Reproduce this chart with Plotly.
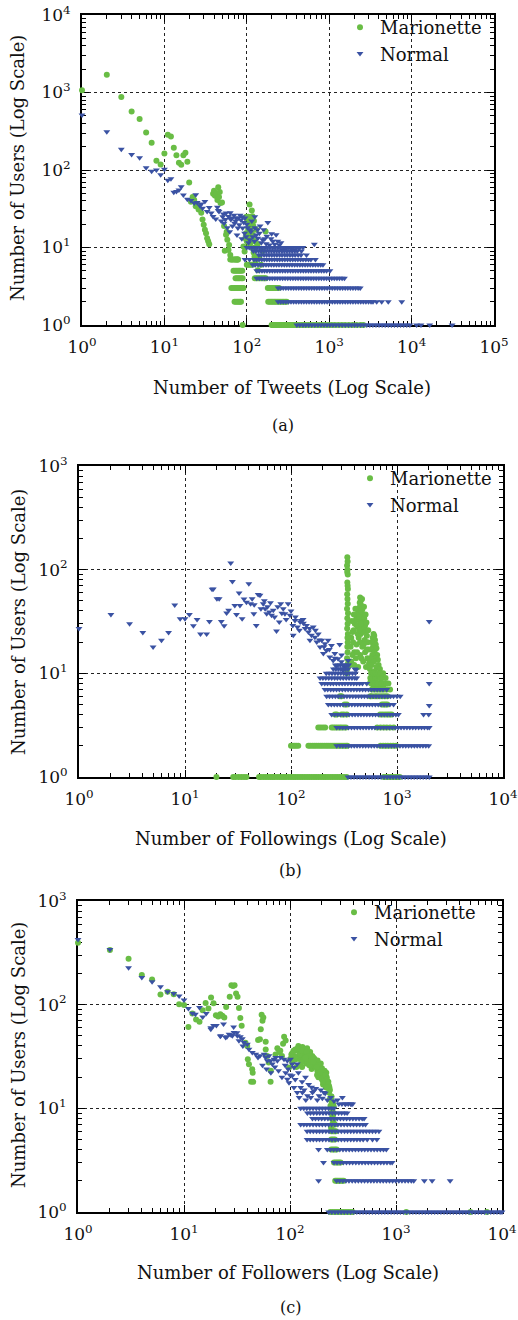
import plotly.graph_objects as go

# ---------------- data ----------------
# (a) Number of Tweets vs Number of Users
tweets_mar_x = [1, 2, 3, 4, 5, 6, 7, 8, 9, 10, 11, 12, 13, 14, 15, 16, 17, 18, 19, 20,
                21, 22, 23, 24, 25, 26, 28, 29, 30, 31, 32, 33, 34, 35,
                39, 40, 41, 42, 43, 44, 45, 46, 47, 48, 50,
                53, 54, 56, 57, 58, 60, 61, 63, 66, 72, 76, 78,
                91, 94, 96, 98, 99, 100, 101, 103, 105, 106, 108, 108, 110, 112, 113, 115, 117,
                118, 118, 120, 121, 122, 124, 125, 128, 130, 135, 136, 142, 149, 155, 169,
                102, 107, 111, 114, 119, 126, 104, 116]
tweets_mar_y = [1070, 1700, 875, 570, 455, 305, 225, 132, 118, 163, 286, 271, 194, 155, 124, 117, 155, 167, 128, 69,
                39, 45, 41, 34, 36, 31, 28, 23, 19.6, 17, 15.3, 13.2, 12, 11,
                49.5, 54, 47, 46.5, 50, 41, 60, 45, 52, 37.5, 38,
                19, 9.1, 14.6, 16, 12.6, 9.3, 10.8, 8, 7, 7, 7, 7,
                10.3, 8.9, 13.2, 15.3, 25, 12, 22.6, 22.7, 25, 16.9, 36, 10.8, 20.6, 18.7, 16, 30, 25.4,
                9.8, 14.6, 19, 8.6, 22, 7.6, 12, 6.6, 17, 11, 5.1, 7.3, 6, 9, 16.1,
                14, 19, 11.5, 21, 12.5, 10, 17.5, 13.5]
tweets_mar_rows = {
    1: [89, 200, 206, 212, 219, 226, 233, 241, 249, 258, 267, 277, 288, 300, 312, 325, 339, 354, 370, 387,
        405, 430, 460, 490, 520, 560, 600, 650, 700, 760, 830, 900, 980, 1070, 1170, 1290, 1420, 1560,
        1730, 1920, 2150, 2400, 2600],
    2: [71, 74, 77, 80, 83, 85, 182, 190, 198, 206, 215, 224, 234, 245, 256, 268, 280, 293, 305],
    3: [65, 68, 71, 74, 77, 80, 83, 86, 89, 91, 180, 188, 196, 205, 214, 224, 235, 246],
    4: [73, 76, 79, 82, 86, 89, 125, 131, 137, 144, 151, 158, 164, 170],
    5: [69, 72, 75, 78, 81, 84, 88],
    6: [100, 104, 108, 113, 118],
    7: [63, 66, 69, 72, 75, 78],
}
tweets_nor_x = [1, 2, 3, 4, 5, 6, 7, 8, 9, 10, 11, 12, 13, 14, 15, 16, 17, 19, 21, 23, 24, 25, 27, 28, 29,
                31, 33, 35, 37, 39, 42, 44, 45, 46, 49, 51, 52, 53, 55, 56, 58, 60, 62, 63, 64, 66, 67, 70,
                71, 73, 74, 76, 78, 79, 81, 83, 85, 87, 88, 89, 92, 94, 95, 98, 100, 102, 105, 108, 110,
                112, 115, 118, 124, 125, 125, 130, 135, 136, 142, 145, 150, 156, 160, 165, 172, 175, 180,
                188, 197, 200, 207, 218, 227, 238, 248, 260, 273, 300, 345, 380, 433, 660]
tweets_nor_y = [512, 312, 185, 158, 144, 107, 96, 100, 87, 102, 74, 77, 51.5, 52.6, 55, 61, 47.5, 42, 40.5, 37.5,
                48, 38, 34.5, 36.3, 32, 39.3, 29.2, 32.8, 27.8, 25.2, 23.3, 33, 30, 29.2, 22, 25, 27, 20.6,
                23, 27.8, 18, 25.2, 16, 28, 22.9, 24, 19, 26, 20.6, 22, 24, 14.5, 17.8, 24, 19.6, 26, 22.7,
                13, 25, 17.8, 21, 15.3, 24, 13.8, 20, 18, 11.5, 12.6, 17, 16, 22, 13.8, 12, 18, 25, 14.5,
                17, 13.2, 15.3, 19, 11.5, 12.6, 17, 13, 11.2, 14, 21, 10.8, 13, 15, 12, 11, 14.6, 12, 10.8,
                11.5, 9.3, 9.8, 9.8, 9.3, 9.8, 11]
tweets_nor_rows = {
    1: [405, 440, 480, 520, 565, 615, 670, 730, 795, 865, 940, 1020, 1110, 1210, 1320, 1440, 1570, 1710,
        1860, 2030, 2210, 2410, 2620, 2860, 3110, 3390, 3700, 4030, 4390, 4780, 5210, 5680, 6190, 6750,
        7350, 8010, 8730, 9520, 11500, 13000, 16600, 31000],
    2: [240, 258, 277, 298, 320, 344, 370, 397, 427, 459, 493, 530, 570, 612, 658, 707, 760, 817, 878, 944,
        1014, 1090, 1172, 1260, 1354, 1455, 1565, 1682, 1808, 1943, 2090, 2245, 2415, 2595, 2790, 3000,
        3220, 3400, 3770, 4330, 5210, 7590],
    3: [240, 258, 277, 298, 320, 344, 370, 397, 427, 459, 493, 530, 570, 612, 658, 707, 760, 817, 878, 944,
        1014, 1090, 1172, 1260, 1354, 1455, 1565, 1682, 1808, 1943, 2090, 2245, 2380],
    4: [132, 142, 153, 164, 176, 190, 204, 219, 235, 253, 272, 292, 314, 338, 363, 390, 419, 451, 485, 521,
        560, 602, 647, 696, 748, 804, 864, 929, 999, 1074, 1154, 1241, 1334, 1434, 1530],
    5: [132, 142, 153, 164, 176, 190, 204, 219, 235, 253, 272, 292, 314, 338, 363, 390, 419, 451, 485, 521,
        560, 602, 647, 696, 748, 804, 864, 929, 1020],
    6: [118, 127, 137, 148, 159, 171, 184, 198, 213, 229, 246, 265, 285, 306, 329, 354, 381, 410, 441, 474,
        510, 548, 589, 634, 681, 733, 788, 840],
    7: [95, 108, 122, 131, 141, 152, 163, 175, 188, 202, 217, 234, 251, 270, 290, 312, 336, 361, 388, 417,
        449, 482, 520, 560, 600, 680],
    8: [140, 150, 162, 174, 187, 201, 216, 232, 250, 268, 289, 310, 334, 359, 386, 420, 455, 530],
    9: [120, 129, 139, 149, 160, 172, 185, 199, 214, 230, 247, 266, 286, 307, 330, 355, 382, 410, 460],
    10: [100, 107, 115, 124, 133, 143, 154, 166, 178, 191, 206, 221, 238, 256, 275, 296, 318, 342, 368,
         396, 426, 480],
}

# (b) Number of Followings vs Number of Users
follow_mar_x = [340, 342, 338, 341, 339, 343, 340, 342, 344, 339, 341, 343, 338, 345, 340, 342, 339, 344,
                341, 343, 340, 342, 338, 345, 340, 336,
                449, 455, 445, 460, 440, 470, 430, 452, 475, 420, 462, 490, 410, 445, 480, 400, 500, 430,
                465, 390, 510, 380, 455, 520, 370, 435, 495, 385, 530, 415, 470, 365, 540, 395, 500, 380,
                450, 525, 410, 370, 480, 545, 395, 430, 510, 360, 405, 418, 438, 458, 478, 488, 468, 425,
                448, 505, 515, 535, 392, 375, 485, 460, 420, 440, 520,
                600, 610, 590, 620, 580, 630, 595, 640, 570, 615, 650, 585, 625, 660, 560, 605, 670, 575,
                640, 690, 555, 615, 680, 590, 655, 700, 620, 560, 700, 650, 740, 600, 670]
follow_mar_y = [132, 120, 110, 100, 95, 90, 75, 70, 65, 58, 52, 47, 42, 38, 34, 30, 27, 24, 22, 20, 18, 16,
                14, 12.5, 11, 10,
                54, 50, 48, 45, 43, 41, 40, 38, 37, 36, 35, 34, 33, 32, 31, 30, 29, 28, 27, 26, 26, 25, 24,
                23, 22, 22, 21, 20, 20, 19, 18, 18, 17, 16, 16, 15, 15, 14, 14, 13, 13, 12.5, 12, 11.5,
                11.5, 12, 42, 29, 35, 30, 25, 44, 52, 24, 20, 37, 31, 26, 37, 32, 19, 14, 16, 26, 17,
                24, 23, 22, 21, 20, 19, 18, 17.5, 17, 16, 15, 15, 14, 13.5, 14, 13, 12, 12, 11.5, 11, 11,
                10.5, 10, 9.5, 9.5, 9, 8.5, 8.2, 8, 8, 7.6, 7.4, 7.4]
follow_mar_rows = {
    1: [19.8, 28.5, 30, 32, 34, 36, 38, 50, 52, 55, 58, 61, 64, 67, 70, 74, 78, 82, 86, 90, 95, 100, 105,
        110, 116, 122, 128, 135, 142, 149, 157, 165, 173, 182, 192, 202, 212, 223, 235, 247, 260, 273, 287,
        302, 318, 335, 750, 790, 830, 875, 920, 970, 1020, 1060],
    2: [100, 104, 108, 112, 117, 146, 152, 159, 166, 173, 181, 189, 197, 206, 215, 224, 234, 244, 255, 266,
        278, 290, 303, 316, 330, 340, 700, 740, 780, 820, 870, 920, 980],
    3: [181, 190, 200, 210, 242, 252, 263, 275, 288, 300, 315, 330, 650, 700, 750, 800, 860, 930],
    4: [260, 270, 300, 315, 336, 693, 730, 770, 810, 850, 890],
    5: [320, 336, 720, 750, 780, 810],
    6: [290, 300, 560, 580, 620, 650, 690, 730, 770, 810],
    7: [580, 610, 640, 670, 700, 730, 760, 800, 860],
    8: [570, 600, 630, 660, 690, 720, 760, 800, 830],
    9: [560, 590, 620, 650, 690, 730, 780],
    10: [570, 600, 630, 660, 700, 740],
}
follow_nor_x = [1, 2, 3, 4, 5, 6, 7, 8, 9, 10, 11, 12, 13, 14, 16, 17, 18, 18.5, 20, 21, 22, 23.4, 24.7,
                25.8, 27, 28, 29.5, 30.6, 32.4, 33, 34.6, 36, 38, 40, 41.6, 43, 44.6, 45, 47, 49, 51, 52,
                54.7, 56, 57, 59, 60, 62.5, 64, 65.6, 68, 70, 73, 75, 77.5, 80, 82, 84.5, 87.6, 90, 94,
                97.8, 100, 104, 105, 109, 110, 115, 120, 122, 125, 130, 131, 136, 140, 146, 150, 151, 156,
                162, 168, 170, 175, 181, 185, 188, 195, 202, 205, 209, 216, 224, 230, 232, 241, 250, 259,
                260, 269, 278, 288, 299, 300, 310, 322, 334, 346, 350, 400, 411, 2014, 2014]
follow_nor_y = [27, 37, 30, 24.7, 17.9, 20.8, 24.7, 45.6, 33.7, 33.7, 37, 28.8, 33, 24, 24, 31.7, 64.6, 65,
                52.5, 52.5, 31.7, 28.8, 38.1, 40.5, 116, 77, 45, 37, 59.6, 45, 33.7, 52, 48.5, 73, 47,
                52.5, 37.6, 46, 29, 57.7, 56.5, 42, 47, 50, 42, 37.6, 44, 39, 48, 36.3, 40.5, 35, 25.6,
                44, 31.2, 47, 38, 42, 37.6, 33, 47, 36.3, 40, 29, 23.3, 32.4, 35, 28, 26, 31.2, 32.4, 33,
                30.5, 27, 29, 25, 27, 20.8, 23.3, 28, 22.3, 26, 20.1, 24, 21, 17.9, 20.8, 15.5, 18, 19.3,
                16.6, 20.8, 17, 14.4, 18.6, 13.3, 15.5, 14, 11.9, 13.8, 19, 12.9, 15, 10.7, 11.5, 9.9, 13.3,
                12, 11, 10.8, 31.7, 4.9]
follow_nor_rows = {
    1: [345, 368, 393, 420, 448, 478, 510, 545, 582, 621, 663, 708, 756, 807, 861, 919, 981, 1047, 1118,
        1193, 1274, 1360, 1452, 1550, 1655, 1766, 1885, 2014],
    2: [270, 290, 308, 328, 349, 371, 395, 420, 447, 476, 506, 539, 573, 610, 649, 691, 735, 782, 832, 886,
        943, 1003, 1067, 1136, 1209, 1287, 1370, 1458, 1551, 1651, 1757, 1870, 1990],
    3: [270, 288, 307, 327, 349, 372, 396, 422, 450, 479, 511, 544, 580, 618, 658, 701, 747, 796, 848, 904,
        963, 1026, 1093, 1165, 1241, 1322, 1409, 1500, 1600, 1705, 1815, 1935, 2014],
    4: [242, 258, 275, 293, 312, 333, 354, 378, 402, 429, 457, 487, 519, 553, 589, 627, 668, 712, 758, 808,
        860, 916, 976, 1030, 1780, 1990],
    5: [225, 240, 256, 273, 291, 310, 330, 352, 375, 400, 426, 454, 484, 516, 549, 585, 624, 665, 708, 755,
        804, 857, 927],
    6: [217, 231, 246, 262, 279, 297, 317, 337, 359, 383, 408, 434, 463, 493, 525, 559, 596, 635, 676, 720,
        767, 817, 870, 927, 1000, 1072],
    7: [209, 222, 237, 252, 269, 286, 305, 325, 346, 368, 392, 418, 445, 474, 505, 538, 573, 610, 650, 692,
        737, 800],
    8: [195, 208, 221, 236, 251, 268, 285, 304, 323, 344, 367, 391, 416, 443, 472, 519, 2014],
    9: [188, 200, 213, 227, 242, 258, 274, 292, 311, 332, 353, 376, 400, 417],
    10: [215, 229, 244, 260, 277, 295, 314, 334, 356, 380, 405],
    11: [251, 265, 280, 295, 311, 328, 345],
    12: [262, 277, 292, 308, 325, 340],
}

# (c) Number of Followers vs Number of Users
followers_mar_x = [1, 2, 3, 4, 5, 6, 7, 8, 9, 10, 11, 12, 13, 14, 15, 16, 17, 18, 19, 20, 21, 22, 23, 24,
                   25, 27, 28, 29, 30, 31, 32, 33, 34, 35,
                   38, 39.5, 40, 41, 43, 44, 44.5, 45, 50, 52, 53, 54, 55, 56, 59, 59, 61, 63, 65.6, 66,
                   73, 76, 79, 81, 84, 86, 88, 91, 98,
                   101, 105, 108, 110, 113, 115, 117, 120, 122, 125, 126, 130, 131, 133, 136, 140, 142, 145,
                   146, 150, 155, 156, 160, 162, 168, 170, 175, 181, 185, 188, 194, 195, 200, 205, 208, 212,
                   215, 220, 225, 230, 233, 238, 241, 245, 250, 255,
                   103, 118, 128, 138, 148, 152, 165, 172, 178, 190, 198, 210, 218, 228, 235, 243, 158, 143,
                   124, 112, 180, 200, 222, 232, 248,
                   105, 112, 118, 124, 130, 137, 144, 151, 158, 166, 174, 182, 190, 198, 206, 214, 222, 230,
                   238, 246, 128, 140, 152, 165, 178, 192, 205, 218, 252, 256, 248, 244, 258]
followers_mar_y = [396, 336, 277, 193, 175, 125, 133, 126, 101, 99, 61, 82, 72, 68.5, 88.5, 104, 92, 117, 103,
                   79, 77, 81, 78, 75, 95, 119, 154, 151, 154, 128, 119, 93, 74.5, 62.5,
                   43, 40, 29.8, 26.6, 18, 23.8, 22, 18, 45.5, 46.5, 58, 80, 70, 75, 44, 37, 32, 27.7, 18, 23,
                   33, 38, 35, 36, 32, 42, 49, 45, 24.8,
                   30, 28, 36, 32, 29.8, 25, 35.9, 40, 30, 26, 37, 25, 39, 31, 37, 34, 27, 38,
                   33, 30, 35, 28.7, 24, 32, 26.6, 30, 28, 23, 20, 25, 21.3, 27, 24.3, 17, 20.5, 23,
                   19.2, 22, 15.8, 18, 14.2, 12.3, 10.6, 13, 9.8, 11,
                   33, 31, 34, 29, 31, 27, 29, 25, 27, 24, 22, 21, 17, 17, 16, 12, 26, 30,
                   33, 37, 21, 19, 20, 16.5, 11.5,
                   34, 31, 38, 33, 36, 30, 35, 32, 29, 31, 27, 29, 26, 24, 22, 21, 19, 17,
                   15, 13, 28, 31, 26, 28, 25, 22, 18, 16, 8.5, 7.5, 9, 6.5, 10.5]
followers_mar_rows = {
    1: [240, 252, 265, 278, 292, 306, 321, 337, 354, 372, 390, 1250, 5040, 7200],
    2: [267, 275, 283, 292, 301, 311, 321],
    3: [260, 270, 280, 290, 300],
    4: [245, 255, 265, 275],
    5: [245, 255, 265],
    6: [245, 255, 262, 270],
    7: [250, 258, 265],
    8: [248, 256],
    9: [250, 258],
}
followers_nor_x = [1, 2, 3, 4, 5, 6, 7, 8, 9, 10, 11, 12, 12.8, 14, 15, 16.2, 17.9, 17.9, 19, 20.2, 22, 22.2,
                   23.6, 24.7, 25.4, 26.6, 27.8, 28.6, 29.4, 29.6, 31.6, 31.9, 33, 34, 35.5, 35.9, 36.8,
                   39.6, 41, 44.1, 47.5, 49.9, 52.1, 55, 56.9, 58.9, 60, 61.1, 63.4, 65.7, 66, 68.1, 70.6,
                   72, 73.3, 76, 78, 81.7, 84, 87.8, 90, 91, 94.4, 94.4, 96, 97.9, 100, 101, 105, 105, 109,
                   109, 112, 117, 117, 120, 122, 126, 130, 131, 136, 140, 141, 146, 150, 157, 160, 163, 168,
                   175, 181, 188, 195, 202, 209, 215, 225, 242, 260, 280, 312, 335, 374]
followers_nor_y = [425, 340, 227, 183, 166, 149, 133, 128, 121, 111, 92, 82.5, 81, 94, 76, 82, 60, 58, 63, 63,
                   49.7, 50, 65, 48.2, 49, 51.9, 51, 50, 61, 53.9, 53.5, 50, 44.8, 49, 47, 40, 43.2,
                   41.6, 37.2, 34.5, 33.3, 30.9, 32.1, 26, 33.3, 30.9, 24, 28.7, 32.1, 28.7, 22, 26.7, 29.8,
                   25, 30.9, 28.7, 23, 30.9, 20, 29.8, 26, 22.1, 28.7, 19.1, 24, 17.7, 21, 29.8, 26.7, 20.6,
                   24.8, 15.9, 19, 26.7, 14.2, 22, 12.7, 15.9, 18, 14.2, 15, 20, 12, 13.2, 17, 12.7, 16, 14.2,
                   14.8, 15.5, 12, 13.2, 15, 12.5, 14.2, 14, 12, 12.7, 11.8, 12, 12.7, 11, 11]
followers_nor_rows = {
    1: [232, 248, 266, 284, 304, 325, 348, 373, 399, 427, 457, 489, 523, 560, 599, 641, 686, 734, 785,
        840, 899, 962, 1029, 1101, 1178, 1261, 1349, 1443, 1544, 1653, 1768, 1892, 2025, 2166, 2318,
        2480, 2654, 2840, 3038, 3251, 3479, 3722, 3983, 4262, 4560, 4879, 5221, 5586, 5977, 6396, 6843,
        7322, 7835, 8383, 8970, 9598, 10000],
    2: [186, 275, 294, 315, 337, 360, 386, 413, 441, 472, 505, 541, 579, 619, 662, 709, 758, 811, 868,
        929, 994, 1064, 1138, 1218, 1303, 1394, 1470, 1850, 2190, 3240],
    3: [207, 260, 278, 298, 319, 341, 365, 390, 418, 447, 478, 512, 548, 586, 627, 671, 718, 768, 822,
        880, 920],
    4: [186, 225, 241, 258, 276, 295, 316, 338, 362, 387, 414, 443, 474, 507, 543, 581, 622, 665, 712,
        762, 810],
    5: [145, 155, 166, 178, 190, 203, 218, 233, 249, 267, 285, 305, 327, 349, 374, 400, 428, 458, 490,
        535, 600, 660],
    6: [145, 155, 166, 178, 190, 203, 218, 233, 249, 267, 285, 305, 327, 349, 374, 400, 428, 458, 490,
        524, 561, 600, 642, 690],
    7: [126, 135, 144, 154, 165, 177, 189, 202, 216, 231, 247, 265, 283, 303, 324, 347, 371, 397, 425,
        455, 487, 515],
    8: [163, 174, 186, 199, 213, 228, 244, 261, 279, 299, 320, 342, 366, 392, 419, 449, 480, 500],
    9: [146, 156, 167, 179, 191, 205, 219, 234, 251, 268, 287, 307, 328, 346],
    10: [126, 135, 144, 154, 165, 177, 189, 202, 216, 231, 247, 260],
    11: [289, 309, 331, 354, 379, 390],
}

series_names = ["Marionette", "Normal"]
x_titles = ["Number of Tweets (Log Scale)", "Number of Followings (Log Scale)",
            "Number of Followers (Log Scale)"]
y_title = "Number of Users (Log Scale)"
panel_tags = ["(a)", "(b)", "(c)"]
x_decades = [5, 4, 4]
y_decades = [4, 3, 3]

# ---------------- layout helpers ----------------
W, H = 518, 1320
GREEN = "#69bd45"
BLUE = "#3a52a3"
FONT = "DejaVu Serif"


def fx(px):
    return px / W


def fy(py):
    return 1 - py / H


def merge(xs, ys, rows):
    ax, ay = list(xs), list(ys)
    for count, vals in rows.items():
        ax += vals
        ay += [count] * len(vals)
    return ax, ay


def minor_vals(decades):
    return [m * 10 ** k for k in range(decades) for m in range(2, 10)]


panels = [
    (tweets_mar_x, tweets_mar_y, tweets_mar_rows, tweets_nor_x, tweets_nor_y, tweets_nor_rows),
    (follow_mar_x, follow_mar_y, follow_mar_rows, follow_nor_x, follow_nor_y, follow_nor_rows),
    (followers_mar_x, followers_mar_y, followers_mar_rows, followers_nor_x, followers_nor_y, followers_nor_rows),
]

# plot boxes in pixels: left, right, top, bottom
boxes = [(82, 494, 15, 325), (79, 503, 466, 777), (78, 502, 901, 1212)]
legend_pos = [(340, 9), (350, 460), (334, 894)]
xtitle_pos = [(292, 387), (291, 838), (288, 1272)]
ytitle_pos = [(18, 168), (18, 622), (18, 1055)]
tag_pos = [(283, 425), (290, 870), (290, 1307)]

fig = go.Figure()
layout = dict(width=W, height=H, margin=dict(l=0, r=0, t=0, b=0, autoexpand=False),
              plot_bgcolor="white", paper_bgcolor="white",
              font=dict(family=FONT, size=16, color="#111"),
              showlegend=True, annotations=[])

for i, (mx, my, mrows, nx, ny, nrows) in enumerate(panels):
    sfx = "" if i == 0 else str(i + 1)
    leg = "legend" + sfx
    gx, gy = merge(mx, my, mrows)
    bx, by = merge(nx, ny, nrows)
    # Marionette drawn first, Normal on top
    fig.add_trace(go.Scatter(x=gx, y=gy, mode="markers", name=series_names[0],
                             marker=dict(symbol="circle", size=6, color=GREEN),
                             xaxis="x" + sfx, yaxis="y" + sfx, legend=leg, cliponaxis=False))
    fig.add_trace(go.Scatter(x=bx, y=by, mode="markers", name=series_names[1],
                             marker=dict(symbol="triangle-down", size=6, color=BLUE),
                             xaxis="x" + sfx, yaxis="y" + sfx, legend=leg, cliponaxis=False))

    l, r, t, b = boxes[i]
    xd, yd = x_decades[i], y_decades[i]
    axis_common = dict(type="log", showline=True, linewidth=2, linecolor="black", mirror="allticks",
                       ticks="inside", ticklen=7, tickwidth=1, tickcolor="black",
                       showgrid=True, gridcolor="#222", griddash="dot", gridwidth=1,
                       zeroline=False, layer="below traces", automargin=False,
                       tickfont=dict(family=FONT, size=17, color="#111"), ticklabelstandoff=6)
    layout["xaxis" + sfx] = dict(axis_common, domain=[fx(l), fx(r)], anchor="y" + sfx,
                                 range=[0, xd], tickvals=[10 ** k for k in range(xd + 1)],
                                 ticktext=["10<sup>%d</sup>" % k for k in range(xd + 1)],
                                 minor=dict(tickmode="array", tickvals=minor_vals(xd), ticks="inside",
                                            ticklen=4, tickwidth=1, tickcolor="black", showgrid=False))
    layout["yaxis" + sfx] = dict(axis_common, domain=[fy(b), fy(t)], anchor="x" + sfx,
                                 range=[0, yd], tickvals=[10 ** k for k in range(yd + 1)],
                                 ticktext=["10<sup>%d</sup>" % k for k in range(yd + 1)],
                                 minor=dict(tickmode="array", tickvals=minor_vals(yd), ticks="inside",
                                            ticklen=4, tickwidth=1, tickcolor="black", showgrid=False))
    lx, ly = legend_pos[i]
    layout[leg] = dict(x=fx(lx), y=fy(ly), xanchor="left", yanchor="top", bgcolor="rgba(0,0,0,0)",
                       font=dict(family=FONT, size=18, color="#111"), tracegroupgap=0,
                       itemsizing="trace")
    layout["annotations"] += [
        dict(text=x_titles[i], x=fx(xtitle_pos[i][0]), y=fy(xtitle_pos[i][1]), xref="paper", yref="paper",
             xanchor="center", yanchor="middle", showarrow=False,
             font=dict(family=FONT, size=18, color="#111")),
        dict(text=y_title, x=fx(ytitle_pos[i][0]), y=fy(ytitle_pos[i][1]), xref="paper", yref="paper",
             xanchor="center", yanchor="middle", showarrow=False, textangle=-90,
             font=dict(family=FONT, size=18, color="#111")),
        dict(text=panel_tags[i], x=fx(tag_pos[i][0]), y=fy(tag_pos[i][1]), xref="paper", yref="paper",
             xanchor="center", yanchor="middle", showarrow=False,
             font=dict(family=FONT, size=16, color="#111")),
    ]

fig.update_layout(**layout)
fig.write_html("out.html", config={"displayModeBar": False},
               post_script="document.body.style.margin='0';")
